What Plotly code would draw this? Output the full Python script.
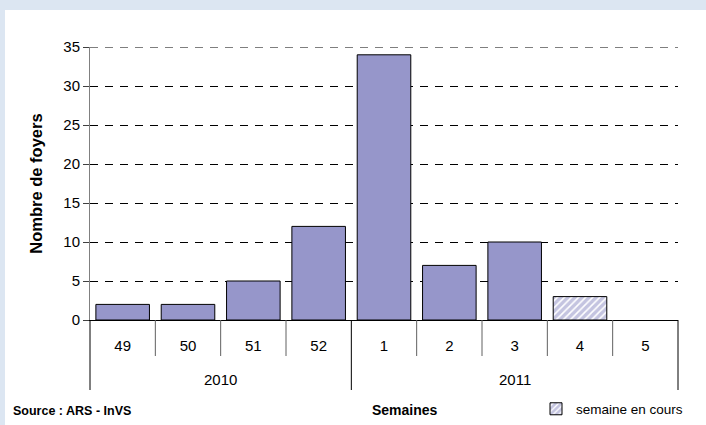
import plotly.graph_objects as go

# ---------------- data ----------------
weeks = ["49", "50", "51", "52", "1", "2", "3", "4", "5"]
years = ["2010", "2010", "2010", "2010", "2011", "2011", "2011", "2011", "2011"]
foyers = [2, 2, 5, 12, 34, 7, 10, 3, 0]
current_week = "4"
y_ticks = [0, 5, 10, 15, 20, 25, 30, 35]

# ---------------- layout constants ----------------
W, H = 706, 425
PL, PR, PT, PB = 90, 678, 47, 320          # plot area in pixels
pw, ph = PR - PL, PB - PT

def px_x(x):
    return (x - PL) / pw

def px_y(y):
    return (PB - y) / ph

FONT = "Liberation Sans, Arial, sans-serif"
BAR = "#9696ca"
BG = "#dce6f2"
DASH = "8px,7px"

done_idx = [i for i, w in enumerate(weeks) if w != current_week]
cur_idx = [i for i, w in enumerate(weeks) if w == current_week]

fig = go.Figure()
fig.add_trace(go.Bar(
    x=[weeks[i] for i in done_idx], y=[foyers[i] for i in done_idx],
    marker=dict(color=BAR,
                line=dict(color="black",
                          width=[1 if foyers[i] > 0 else 0 for i in done_idx])),
    showlegend=False, hoverinfo="x+y",
))
fig.add_trace(go.Bar(
    x=[weeks[i] for i in cur_idx], y=[foyers[i] for i in cur_idx],
    name="semaine en cours",
    marker=dict(color="white", line=dict(color="black", width=1),
                pattern=dict(shape="/", fgcolor="#8a8ac2", bgcolor="white",
                             size=5, solidity=0.68)),
    showlegend=True,
))

shapes = []
# white panel over the light blue page
shapes.append(dict(type="rect", xref="paper", yref="paper",
                   x0=px_x(5), x1=px_x(W + 2), y0=px_y(H + 2), y1=px_y(10),
                   fillcolor="white", line=dict(width=0), layer="below"))
# top gridline (plotly skips the grid line at the range edge)
shapes.append(dict(type="line", xref="x domain", yref="y",
                   x0=0, x1=1, y0=y_ticks[-1], y1=y_ticks[-1],
                   line=dict(color="black", width=1, dash=DASH), layer="below"))

# week dividers and year dividers below the axis
n = len(weeks)
year_bounds = [0] + [i for i in range(1, n) if years[i] != years[i - 1]] + [n]
for k in range(n + 1):
    is_year = k in year_bounds
    shapes.append(dict(type="line", xref="x domain", yref="paper",
                       x0=k / n, x1=k / n, y0=0,
                       y1=px_y(390 if is_year else 356),
                       line=dict(color="black" if is_year else "#606060", width=1)))

annotations = []
# year labels
for a, b in zip(year_bounds[:-1], year_bounds[1:]):
    annotations.append(dict(text=years[a], xref="x domain", yref="paper",
                            x=(a + b) / 2 / n, y=px_y(379), showarrow=False,
                            xanchor="center", yanchor="middle",
                            font=dict(family=FONT, size=15, color="black")))
annotations.append(dict(text="<b>Semaines</b>", xref="paper", yref="paper",
                        x=px_x(405), y=px_y(410), showarrow=False,
                        xanchor="center", yanchor="middle",
                        font=dict(family=FONT, size=14, color="black")))
annotations.append(dict(text="<b>Source : ARS - InVS</b>", xref="paper", yref="paper",
                        x=px_x(11), y=px_y(411), xanchor="left", yanchor="middle",
                        showarrow=False,
                        font=dict(family=FONT, size=12.5, color="black")))

fig.update_layout(
    width=W, height=H,
    margin=dict(l=PL, r=W - PR, t=PT, b=H - PB, autoexpand=False),
    paper_bgcolor=BG, plot_bgcolor="white",
    barmode="overlay", bargap=0.18,
    font=dict(family=FONT, size=15, color="black"),
    shapes=shapes, annotations=annotations,
    legend=dict(x=px_x(536), y=px_y(409), xanchor="left", yanchor="middle",
                bgcolor="rgba(0,0,0,0)", font=dict(family=FONT, size=13.5)),
    xaxis=dict(type="category", categoryorder="array", categoryarray=weeks,
               range=[-0.5, n - 0.5], showline=True, linecolor="black",
               ticks="", showgrid=False, tickfont=dict(size=15),
               ticklabelstandoff=12),
    yaxis=dict(range=[0, 35], tickvals=y_ticks, showline=True, linecolor="#808080",
               ticks="outside", ticklen=6, tickcolor="#404040",
               showgrid=True, gridcolor="black", griddash=DASH, gridwidth=1,
               zeroline=False, tickfont=dict(size=15),
               title=dict(text="<b>Nombre de foyers</b>", standoff=16,
                          font=dict(family=FONT, size=16.5))),
)

fig.write_html("out.html", config={"displayModeBar": False})
# remove the default page margin so the figure sits at the window origin
with open("out.html", encoding="utf-8") as f:
    html = f.read()
html = html.replace("<head>", "<head><style>body{margin:0;padding:0}</style>", 1)
with open("out.html", "w", encoding="utf-8") as f:
    f.write(html)
